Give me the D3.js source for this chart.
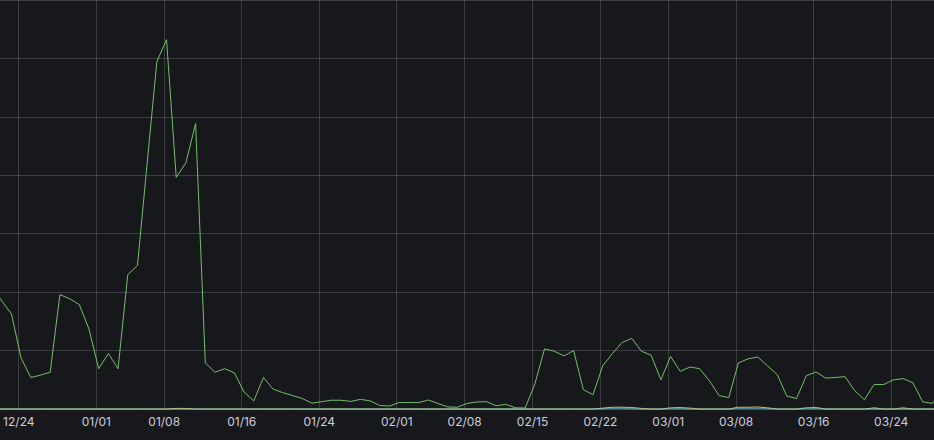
<!DOCTYPE html>
<html>
<head>
<meta charset="utf-8">
<script src="https://cdn.jsdelivr.net/npm/d3@7"></script>
<style>
  html, body { margin: 0; padding: 0; background: #17181b; }
  svg { display: block; }
</style>
</head>
<body>
<div id="chart"></div>
<script>
// daily samples, first one on 2022-12-21
const startDay = '2022-12-21T07:00:00Z';

const greenValues = [
    21.1, 18.5, 16.3, 8.7, 5.4, 5.8, 6.3, 19.6, 18.9, 17.9, 13.7,
    6.9, 9.5, 6.9, 23.0, 24.6, 42.1, 59.5, 63.3, 39.7, 42.2, 48.9, 7.9, 6.3, 6.9, 6.2,
    2.9, 1.4, 5.4, 3.4, 2.8, 2.3, 1.8, 1.0, 1.25, 1.5, 1.5, 1.3, 1.65, 1.4, 0.6, 0.5,
    1.1, 1.1, 1.1, 1.55, 0.95, 0.35, 0.3, 0.95, 1.2, 1.25, 0.55, 0.8, 0.2, 0.17,
    4.3, 10.3, 9.9, 9.1, 10.0, 3.3, 2.45, 7.4, 9.5, 11.4, 12.1, 9.9, 9.2, 5.0,
    9.0, 6.45, 7.2, 6.9, 4.85, 2.3, 1.95, 7.9, 8.6, 8.9, 7.4, 5.9, 2.2, 1.8, 5.7,
    6.35, 5.3, 5.4, 5.55, 3.15, 1.6, 4.2, 4.2, 5.0, 5.2, 4.5, 1.25, 0.95, 3.1
];

const yellowValues = [
    0, 0, 0, 0, 0, 0, 0, 0, 0, 0, 0,
    0, 0, 0, 0, 0, 0, 0, 0, 0.1, 0.1, 0, 0, 0, 0, 0,
    0, 0, 0, 0, 0, 0, 0, 0, 0, 0, 0, 0, 0, 0, 0, 0,
    0, 0, 0, 0, 0, 0, 0, 0, 0, 0, 0, 0, 0, 0,
    0, 0, 0, 0, 0, 0, 0, 0.15, 0.3, 0.3, 0.25, 0.1, 0, 0,
    0.2, 0.25, 0.15, 0, 0, 0, 0, 0.3, 0.3, 0.35, 0.2, 0, 0, 0, 0.2,
    0.25, 0, 0, 0, 0, 0, 0.2, 0, 0, 0.2, 0, 0, 0, 0
];

const cyanValues = [
    0, 0, 0, 0, 0, 0, 0, 0, 0, 0, 0,
    0, 0, 0, 0, 0, 0, 0, 0, 0, 0, 0, 0, 0, 0, 0,
    0, 0, 0, 0, 0, 0, 0, 0, 0, 0, 0, 0, 0, 0, 0, 0,
    0, 0, 0, 0, 0, 0, 0, 0, 0, 0, 0, 0, 0, 0,
    0, 0, 0, 0, 0, 0, 0, 0.05, 0.1, 0.1, 0.05, 0, 0, 0,
    0.05, 0.1, 0, 0, 0, 0, 0, 0.1, 0.1, 0.1, 0.05, 0, 0, 0, 0.05,
    0.1, 0, 0, 0, 0, 0, 0.05, 0, 0, 0.05, 0, 0, 0, 0
];

const tickLabels = ['12/24', '01/01', '01/08', '01/16', '01/24', '02/01', '02/08',
    '02/15', '02/22', '03/01', '03/08', '03/16', '03/24'];
const tickYears = [2022, 2023, 2023, 2023, 2023, 2023, 2023, 2023, 2023, 2023, 2023, 2023, 2023];

const width = 934;
const height = 440;
const plot = { left: 0, right: 934, top: 0.5, bottom: 409 };

const xDomain = [new Date('2022-12-22T02:40:00Z'), new Date('2023-03-28T11:15:00Z')];

const x = d3.scaleUtc().domain(xDomain).range([plot.left, plot.right]);
const y = d3.scaleLinear().domain([0, 70]).range([plot.bottom, plot.top]);

const first = new Date(startDay);
const rows = greenValues.map((v, i) => ({
    date: d3.utcDay.offset(first, i),
    green: v,
    yellow: yellowValues[i],
    cyan: cyanValues[i]
}));

const tickDates = tickLabels.map((t, i) => {
    const [m, d] = t.split('/').map(Number);
    return new Date(Date.UTC(tickYears[i], m - 1, d));
});

const svg = d3.select('#chart').append('svg')
    .attr('width', width)
    .attr('height', height)
    .style('background', '#17181b');

svg.append('defs').append('clipPath')
    .attr('id', 'plotclip')
    .append('rect')
    .attr('x', plot.left)
    .attr('y', 0)
    .attr('width', plot.right - plot.left)
    .attr('height', plot.bottom + 2);

// grid
const gridColor = 'rgba(204, 204, 220, 0.2)';
const grid = svg.append('g').attr('class', 'grid');
grid.selectAll('line.h')
    .data(y.ticks(7))
    .join('line')
    .attr('class', 'h')
    .attr('x1', plot.left)
    .attr('x2', plot.right)
    .attr('y1', d => Math.floor(y(d)) + 0.5)
    .attr('y2', d => Math.floor(y(d)) + 0.5)
    .attr('stroke', gridColor);

grid.selectAll('line.v')
    .data(tickDates)
    .join('line')
    .attr('class', 'v')
    .attr('x1', d => Math.round(x(d)) + 0.5)
    .attr('x2', d => Math.round(x(d)) + 0.5)
    .attr('y1', plot.top)
    .attr('y2', plot.bottom)
    .attr('stroke', gridColor);

// x axis labels
const xAxis = svg.append('g')
    .attr('transform', `translate(0,${plot.bottom})`)
    .call(d3.axisBottom(x)
        .tickValues(tickDates)
        .tickFormat((d, i) => tickLabels[i])
        .tickSize(0)
        .tickPadding(8));
xAxis.select('.domain').remove();
xAxis.selectAll('text')
    .attr('fill', '#ccccdc')
    .style('font-family', 'Inter, "Noto Sans", sans-serif')
    .style('font-size', '12px');

// series: yellow under, green, then translucent cyan on top
const lines = svg.append('g').attr('clip-path', 'url(#plotclip)');
const series = [
    { key: 'yellow', color: '#eab839', opacity: 1, width: 1 },
    { key: 'green', color: '#73bf69', opacity: 1, width: 1 },
    { key: 'cyan', color: '#6ed0e0', opacity: 0.6, width: 1.5 }
];

series.forEach(s => {
    lines.append('path')
        .datum(rows)
        .attr('fill', 'none')
        .attr('stroke', s.color)
        .attr('stroke-opacity', s.opacity)
        .attr('stroke-width', s.width)
        .attr('stroke-linejoin', 'round')
        .attr('d', d3.line()
            .x(d => x(d.date))
            .y(d => y(d[s.key])));
});
</script>
</body>
</html>
